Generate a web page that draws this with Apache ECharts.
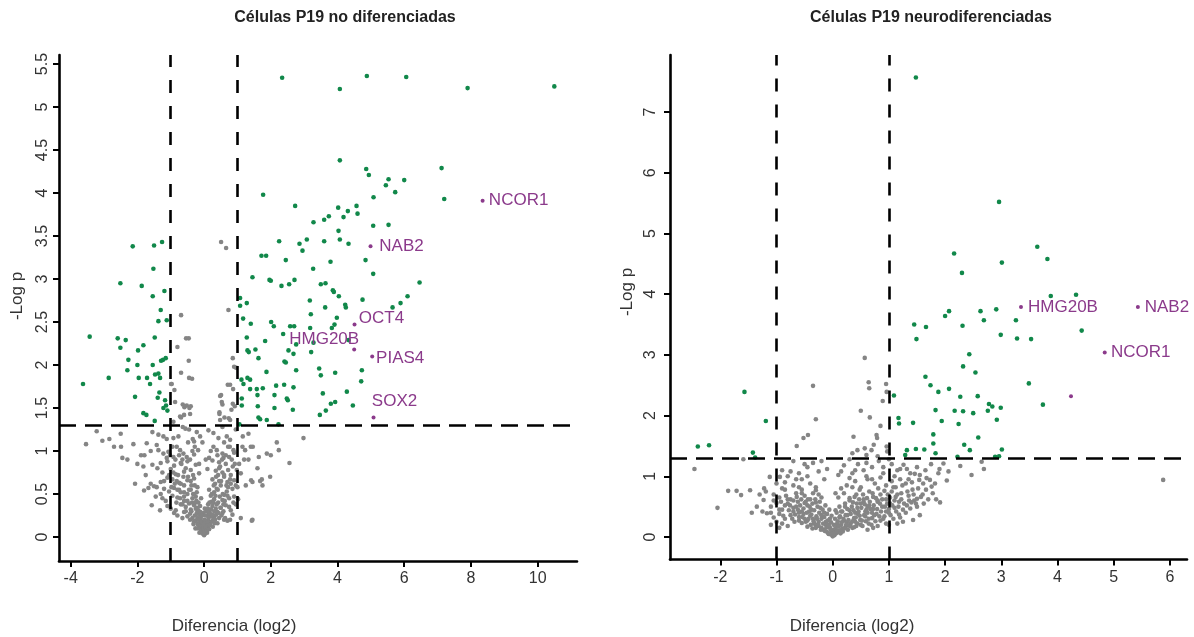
<!DOCTYPE html>
<html>
<head>
<meta charset="utf-8">
<script src="https://cdn.jsdelivr.net/npm/echarts@6/dist/echarts.min.js"></script>
<style>
html,body{margin:0;padding:0;background:#fff;}
#chart{width:1194px;height:637px;}
</style>
</head>
<body>
<div id="chart"></div>
<script>
// ---------------- DATA ----------------
const titles = ['Células P19 no diferenciadas', 'Células P19 neurodiferenciadas'];
const xAxisTitle = 'Diferencia (log2)';
const yAxisTitle = '-Log p';

const leftXTicks = [-4, -2, 0, 2, 4, 6, 8, 10];
const leftYTicks = [0, 0.5, 1, 1.5, 2, 2.5, 3, 3.5, 4, 4.5, 5, 5.5];
const rightXTicks = [-2, -1, 0, 1, 2, 3, 4, 5, 6];
const rightYTicks = [0, 1, 2, 3, 4, 5, 6, 7];

const diffThreshold = [-1, 1];
const pThreshold = 1.3;

// Left panel: significant (green)
const leftGreen = [
[2.34,5.34],[4.88,5.36],[6.06,5.35],[4.07,5.21],[7.90,5.22],[10.50,5.24],
[4.07,4.38],[4.86,4.28],[4.94,4.21],[7.12,4.29],[5.53,4.16],[6.00,4.15],[5.45,4.09],[5.73,4.01],[1.77,3.98],[5.08,3.95],[7.20,3.93],[2.73,3.85],[4.02,3.83],[4.31,3.79],[4.57,3.85],[4.60,3.76],[3.74,3.73],[4.18,3.72],[3.60,3.69],[3.28,3.66],[5.07,3.62],[5.53,3.63],[4.03,3.56],[2.25,3.44],[2.86,3.41],[3.08,3.46],[3.60,3.44],[4.07,3.46],[4.33,3.41],[2.95,3.33],[1.72,3.27],[1.86,3.27],[2.45,3.22],[3.79,3.20],[4.84,3.22],[3.27,3.12],[5.07,3.06],[1.45,3.02],[1.96,2.99],[2.00,2.98],[2.32,2.92],[2.55,2.94],[2.71,2.99],[3.50,2.94],[3.64,2.95],[3.86,2.87],[3.89,2.85],[4.04,2.80],[6.46,2.96],[6.10,2.80],[1.08,2.78],
[1.28,2.72],[1.08,2.69],[1.17,2.54],[1.40,2.48],[1.28,2.32],[1.30,2.17],[1.34,2.15],[1.54,2.18],[1.63,2.08],[1.83,2.28],[2.01,2.50],[2.09,2.45],[2.37,2.36],[2.58,2.45],[2.70,2.45],[2.68,2.13],[2.53,2.17],[2.41,2.04],[2.45,2.03],[2.76,1.94],[1.87,1.92],
[1.12,1.83],[1.30,1.85],[1.38,1.83],[1.38,1.72],[1.58,1.72],[1.60,1.65],[1.76,1.73],[2.16,1.76],[2.40,1.77],[2.68,1.74],[2.11,1.65],[2.48,1.61],[2.51,1.59],[1.13,1.61],[1.13,1.53],[1.61,1.52],[2.11,1.50],[2.66,1.48],[1.63,1.39],[1.68,1.37],[1.88,1.36],[2.23,1.31],[1.06,1.31],[1.18,1.78],
[3.17,2.75],[3.63,2.67],[4.23,2.70],[4.25,2.67],[4.75,2.76],[5.89,2.72],[5.65,2.67],[3.20,2.59],[3.98,2.55],[3.83,2.43],[3.91,2.47],[3.18,2.43],[2.76,2.24],[3.28,2.26],[4.33,2.29],[3.21,2.15],[3.45,1.96],[3.50,1.88],[3.93,1.91],[4.73,1.94],[4.71,1.81],[3.56,1.67],[4.28,1.69],[3.93,1.57],[3.80,1.55],[4.46,1.53],[3.65,1.47],[3.47,1.42],
[-2.14,3.38],[-1.50,3.39],[-1.26,3.43],[-1.52,3.12],[-2.51,2.95],[-1.87,2.92],[-1.19,2.86],[-1.54,2.80],[-1.30,2.64],[-1.37,2.51],[-1.12,2.52],[-3.43,2.33],[-2.59,2.31],[-2.35,2.29],[-2.51,2.20],[-1.48,2.32],[-1.82,2.23],[-1.98,2.17],[-2.27,2.06],[-2.00,2.00],[-1.29,2.05],[-1.23,2.06],[-1.15,2.08],[-1.54,2.00],[-2.30,1.94],[-1.47,1.89],[-1.37,1.90],[-1.32,1.85],[-1.96,1.85],[-1.71,1.85],[-1.62,1.78],[-3.63,1.78],[-2.86,1.85],[-1.34,1.68],[-2.07,1.63],[-1.39,1.62],[-1.17,1.59],[-1.14,1.53],[-1.22,1.50],[-1.10,1.47],[-1.82,1.44],[-1.73,1.42],[-1.48,1.35]
];

// Left panel: not significant (gray)
const leftGray = [
[0,0.02],[0.03,0.04],[-0.04,0.05],[0.06,0.06],[-0.07,0.07],[0.09,0.05],[-0.02,0.08],[0.1,0.1],[-0.1,0.09],[0.05,0.09],
[-0.15,0.12],[0.14,0.13],[-0.2,0.15],[0.18,0.16],[-0.12,0.17],[0.22,0.18],[-0.25,0.19],[0.12,0.19],[-0.18,0.2],[0.27,0.2],[0.08,0.15],[-0.08,0.14],[-0.3,0.18],[0.32,0.16],
[-0.35,0.22],[0.3,0.23],[-0.28,0.25],[0.36,0.26],[-0.42,0.27],[0.2,0.24],[-0.22,0.28],[0.4,0.29],[-0.5,0.24],[0.45,0.22],[0.15,0.27],[-0.15,0.26],[-0.6,0.29],[0.55,0.28],[0.6,0.2],[0.7,0.19],[0.78,0.2],[1.1,0.22],[1.45,0.2],[1.43,0.19],[-0.65,0.22],[-0.8,0.25],[-0.9,0.28],[0.85,0.26],
[-0.4,0.32],[0.35,0.33],[-0.55,0.35],[0.5,0.34],[-0.3,0.37],[0.25,0.36],[-0.7,0.38],[0.65,0.37],[-0.85,0.31],[0.8,0.31],[-1.0,0.33],[-1.1,0.36],[-1.32,0.31],[-1.57,0.37],[0.95,0.38],[-0.45,0.39],[0.42,0.4],[-0.2,0.34],
[-0.6,0.42],[0.55,0.43],[-0.35,0.45],[0.3,0.44],[-0.8,0.46],[0.75,0.45],[-0.95,0.48],[0.9,0.47],[-1.15,0.42],[-1.25,0.45],[0.6,0.49],[-0.5,0.5],[0.2,0.48],[-0.25,0.47],[1.02,0.44],[-1.45,0.47],
[-1.8,0.54],[-1.67,0.57],[-1.5,0.59],[-1.42,0.58],[-0.7,0.52],[0.68,0.53],[-0.4,0.55],[0.38,0.56],[-0.9,0.57],[0.85,0.56],[-1.05,0.53],[1.0,0.58],[-0.2,0.58],[0.15,0.55],[-0.6,0.6],[0.5,0.6],[-1.2,0.56],
[-2.07,0.62],[-1.3,0.64],[-0.75,0.63],[0.7,0.64],[-0.5,0.66],[0.45,0.65],[-0.95,0.67],[0.9,0.66],[-0.3,0.68],[0.25,0.67],[1.41,0.66],[1.45,0.64],[1.68,0.65],[1.73,0.67],[1.98,0.7],[-1.1,0.69],[0.6,0.7],
[-1.75,0.72],[-1.25,0.75],[-0.85,0.73],[0.8,0.72],[-0.6,0.76],[0.55,0.75],[-0.4,0.78],[0.35,0.77],[-1.0,0.79],[0.98,0.78],[-0.15,0.74],[0.1,0.79],[1.1,0.74],
[-1.82,0.82],[-1.55,0.84],[-1.3,0.86],[-0.9,0.83],[0.86,0.82],[-0.7,0.86],[0.65,0.85],[-0.5,0.88],[0.45,0.87],[-0.25,0.84],[0.25,0.89],[1.05,0.85],[2.56,0.86],[1.33,0.9],[-0.42,0.9],[-1.1,0.88],
[-2.45,0.92],[-1.89,0.95],[-1.79,0.95],[-1.22,0.97],[-1.07,0.99],[-1.02,0.95],[-0.92,0.93],[-0.62,0.97],[-0.52,0.93],[0.4,0.95],[0.55,0.97],[0.75,0.93],[0.9,0.98],[1.64,0.93],[1.88,0.97],[-0.3,0.96],[0.15,0.92],
[-3.54,1.08],[-2.49,1.05],[-2.12,1.08],[-1.72,1.09],[-1.42,1.07],[-1.37,1.01],[-0.82,1.05],[-0.72,1.01],[-0.28,1.05],[-0.18,1.01],[0.28,1.05],[0.38,1.01],[0.72,1.05],[0.88,1.01],[1.15,1.05],[1.23,1.01],[1.4,1.05],[1.46,1.05],[2.18,1.10],[2.24,1.01],
[-3.22,1.23],[-2.84,1.14],[-2.5,1.2],[-1.55,1.22],[-1.37,1.19],[-1.22,1.17],[-1.12,1.14],[-0.92,1.15],[-0.77,1.17],[-0.64,1.28],[-0.56,1.26],[-0.34,1.14],[-0.3,1.11],[-0.22,1.22],[-0.12,1.17],[0.13,1.24],[0.28,1.21],[0.43,1.15],[0.55,1.28],[0.68,1.17],[0.78,1.13],[1.16,1.17],[1.33,1.2],[2.98,1.15],[-0.45,1.25],[0.95,1.25],
[0.51,3.43],[0.66,3.36],[0.73,2.64],[-0.69,2.58],[-0.54,2.31],[-0.46,2.31],[-0.80,2.21],[-0.46,2.05],[-0.45,1.85],[-0.36,1.84],[0.86,2.08],[0.90,1.98],[0.95,1.97],[-0.99,1.78],[-0.89,1.71],[-0.87,1.57],[-0.64,1.54],[-0.59,1.51],[-0.44,1.5],[-0.42,1.43],[-0.69,1.39],[0.51,1.65],[0.55,1.54],[0.71,1.77],[0.87,1.72],[0.86,1.55],[0.82,1.48],[0.92,1.52],[0.46,1.43],[0.61,1.39],[0.78,1.36],[-0.92,1.34],[-0.69,1.91],[-0.97,1.78],[-0.72,1.40],[-0.60,1.42],[0.48,1.64],[0.53,1.57],[0.78,1.77],[0.46,1.45],[0.74,1.38],[0.48,1.36],[-0.52,1.53],[-0.40,1.52],
[-0.05,0.12],[0.04,0.18],[-0.1,0.22],[0.1,0.25],[-0.18,0.31],[0.18,0.32],[-0.26,0.4],[0.22,0.41],[-0.33,0.5],[0.3,0.52],[-0.12,0.36],[0.12,0.38],[-0.38,0.6],[0.33,0.62],[-0.48,0.7],[0.42,0.72],[-0.55,0.8],[0.48,0.82],[-0.65,0.9],[0.58,0.92],[-0.02,0.28],[0.02,0.33],[-0.6,0.47],[0.58,0.38],[-0.75,0.55],[0.72,0.58],[-0.82,0.65],[0.78,0.67],
[-0.55,0.3],[-0.5,0.42],[-0.45,0.55],[-0.42,0.2],[-0.4,0.65],[-0.38,0.3],[-0.36,0.4],[-0.33,0.72],[-0.32,0.15],[-0.3,0.5],[-0.28,0.6],[-0.26,0.1],[-0.25,0.33],[-0.23,0.42],[-0.22,0.52],[-0.2,0.22],[-0.18,0.1],[-0.17,0.4],[-0.16,0.3],[-0.14,0.05],[-0.13,0.21],[-0.11,0.29],[-0.1,0.14],[-0.09,0.45],[-0.07,0.18],[-0.06,0.25],[-0.05,0.04],[-0.03,0.15],[-0.01,0.1],[0.01,0.2],[0.02,0.06],[0.04,0.25],[0.05,0.12],[0.07,0.3],[0.08,0.08],[0.1,0.18],[0.11,0.33],[0.13,0.22],[0.15,0.09],[0.16,0.4],[0.17,0.28],[0.19,0.14],[0.21,0.32],[0.23,0.5],[0.24,0.26],[0.26,0.12],[0.28,0.4],[0.29,0.6],[0.31,0.3],[0.33,0.2],[0.34,0.48],[0.36,0.7],[0.38,0.38],[0.4,0.16],[0.41,0.55],[0.43,0.28],[0.45,0.8],[0.47,0.47],[0.49,0.34],[0.51,0.65],[0.52,0.25],[0.54,0.9],[0.56,0.5],[0.58,0.3],[0.6,0.72],[0.62,0.42],[0.63,0.22],[0.65,0.95],[0.67,0.6],[0.7,0.48],[0.72,0.78],[0.75,0.35],[0.77,1.05],[0.8,0.62],[0.83,0.9],[0.88,0.4],[0.92,0.85],[0.95,0.6],
[-0.6,0.52],[-0.62,0.7],[-0.65,0.38],[-0.68,0.85],[-0.7,0.62],[-0.72,0.45],[-0.75,0.95],[-0.78,0.72],[-0.8,0.55],[-0.83,0.4],[-0.86,0.9],[-0.88,0.62],[-0.92,0.75],[-0.95,1.05],[-0.98,0.58],[-1.05,0.72],[-1.12,0.92],[-1.2,0.65],[-1.3,0.5],[-1.4,0.8],[-1.6,0.62],[-1.6,1.0],[-2.0,0.85],[-2.3,0.9],[-2.7,1.05],[-3.05,1.12],[-0.48,1.1],[-0.05,1.1],[0.2,1.0],[0.6,1.1],[1.2,0.9],[1.25,0.6],[1.6,0.8],[1.75,0.6],[2.0,0.95],[-0.15,0.85],[0.05,0.9],[-0.35,1.0]
];

// Left panel: highlighted genes
const leftGenes = ['NCOR1', 'NAB2', 'OCT4', 'HMG20B', 'PIAS4', 'SOX2'];
const leftGeneX = [8.35, 4.99, 4.51, 4.50, 5.04, 5.08];
const leftGeneY = [3.91, 3.38, 2.47, 2.18, 2.10, 1.39];

// Right panel: significant (green)
const rightGreen = [
[1.48,7.57],[2.96,5.52],[2.16,4.67],[3.01,4.52],[2.30,4.35],[3.64,4.78],[3.82,4.58],[3.88,3.97],[4.33,3.99],[2.00,3.64],[2.07,3.72],[2.63,3.72],[2.91,3.75],[2.69,3.57],[3.26,3.57],[1.45,3.50],[1.66,3.46],[2.31,3.48],[4.43,3.40],[1.49,3.26],[2.99,3.33],[3.28,3.27],[3.53,3.26],[2.43,3.01],[2.32,2.81],[2.54,2.71],[1.65,2.64],[1.74,2.50],[1.88,2.39],[2.07,2.44],[3.49,2.53],[1.09,2.33],[2.27,2.31],[2.58,2.32],[3.74,2.18],[2.78,2.19],[2.84,2.15],[2.76,2.08],[2.99,2.13],[1.83,2.09],[2.17,2.08],[2.32,2.07],[2.50,2.04],[2.92,1.93],[1.17,1.96],[1.18,1.87],[1.43,1.88],[1.94,1.91],[2.24,1.86],[1.79,1.69],[2.59,1.64],[1.79,1.54],[2.34,1.52],[1.48,1.45],[1.63,1.44],[2.44,1.43],[1.32,1.43],[1.29,1.35],[1.83,1.38],[2.22,1.32],[3.01,1.44],[2.89,1.32],[2.96,1.33],
[-1.57,2.39],[-1.19,1.91],[-2.40,1.49],[-2.20,1.51],[-1.42,1.39],[-1.38,1.31]
];

// Right panel: not significant (gray)
const rightGray = [
[-2.46,1.12],[-1.86,0.76],[-1.71,0.76],[-1.63,0.69],[-1.47,0.77],[-2.05,0.48],[-1.44,0.40],[-1.59,1.28],[-1.22,0.80],[-1.19,0.75],[-1.23,0.61],[-1.25,0.42],[-1.17,0.39],[-1.12,0.99],[-0.94,0.99],
[0.57,2.95],[-0.35,2.49],[0.64,2.55],[0.65,2.45],[0.95,2.52],[0.96,2.39],[0.89,2.24],[0.50,2.08],[0.66,1.97],[-0.30,1.94],[0.85,1.83],[0.78,1.68],[0.79,1.63],[-0.44,1.68],[-0.52,1.63],[-0.64,1.50],[0.37,1.65],[0.73,1.52],[0.69,1.43],[0.44,1.43],[0.57,1.46],[0.96,1.49],[0.97,1.41],[0.6,1.35],[0.35,1.38],[0.8,1.33],
[-0.9,1.1],[-0.6,1.05],[-0.45,1.15],[-0.35,1.22],[-0.25,1.08],[-0.1,1.12],[0.2,1.18],[0.35,1.05],[0.45,1.2],[0.55,1.1],[0.7,1.15],[0.82,1.25],[0.9,1.05],[1.05,1.2],[1.15,1.1],[1.26,1.19],[1.32,1.12],[1.38,1.05],[1.46,1.04],[1.55,1.02],[1.88,1.05],[1.90,1.12],[1.97,1.21],[2.06,1.08],[2.27,1.17],[2.47,1.02],[2.65,1.24],[2.69,1.12],[-0.7,1.25],[0.1,1.02],[-0.8,1.0],
[-0.85,0.9],[-0.7,0.85],[-0.55,0.95],[-0.4,0.88],[-0.3,0.82],[0.25,0.85],[0.4,0.92],[0.5,0.82],[0.62,0.95],[0.75,0.88],[0.85,0.98],[0.95,0.85],[1.05,0.92],[1.12,0.82],[1.2,0.95],[1.3,0.88],[1.54,0.94],[1.61,0.88],[1.67,0.97],[1.73,0.94],[1.76,0.83],[1.82,0.88],[2.03,0.93],[5.88,0.94],[-0.6,0.82],[0.3,0.97],
[-1.05,0.7],[-0.95,0.65],[-0.85,0.78],[-0.75,0.62],[-0.65,0.72],[-0.5,0.68],[-0.4,0.62],[-0.25,0.7],[0.2,0.72],[0.3,0.64],[0.42,0.7],[0.55,0.62],[0.65,0.75],[0.72,0.66],[0.85,0.7],[0.95,0.62],[1.05,0.75],[1.12,0.66],[1.22,0.72],[1.35,0.68],[1.42,0.78],[1.5,0.63],[1.6,0.7],[1.45,0.6],[-0.55,0.78],[0.48,0.78],[-0.3,0.77],[0.1,0.65],
[-1.1,0.5],[-1.0,0.56],[-0.9,0.45],[-0.8,0.55],[-0.7,0.48],[-0.62,0.58],[-0.55,0.42],[-0.45,0.52],[-0.38,0.45],[-0.3,0.57],[-0.22,0.48],[-0.15,0.4],[0.15,0.42],[0.22,0.5],[0.3,0.44],[0.36,0.57],[0.44,0.48],[0.5,0.55],[0.58,0.42],[0.65,0.52],[0.72,0.46],[0.8,0.58],[0.88,0.5],[0.95,0.42],[1.02,0.55],[1.1,0.48],[1.18,0.58],[1.25,0.45],[1.32,0.52],[1.4,0.57],[1.5,0.5],[1.91,0.57],[-0.48,0.58],[0.55,0.58],[-0.85,0.52],[0.05,0.44],
[-1.05,0.32],[-0.95,0.38],[-0.85,0.3],[-0.75,0.36],[-0.68,0.25],[-0.6,0.33],[-0.52,0.38],[-0.45,0.27],[-0.4,0.35],[-0.33,0.22],[-0.28,0.3],[-0.2,0.36],[-0.12,0.25],[-0.05,0.3],[0.08,0.22],[0.12,0.32],[0.2,0.27],[0.26,0.36],[0.32,0.22],[0.38,0.31],[0.45,0.38],[0.52,0.27],[0.58,0.34],[0.64,0.22],[0.7,0.31],[0.78,0.38],[0.85,0.27],[0.92,0.34],[1.0,0.4],[1.08,0.3],[1.18,0.37],[1.43,0.28],[1.55,0.36],[1.25,0.25],[-0.55,0.23],[0.5,0.2],[-0.9,0.22],[0.95,0.22],
[0,0.01],[0.03,0.03],[-0.03,0.04],[0.06,0.06],[-0.07,0.05],[0.1,0.08],[-0.11,0.09],[0.14,0.11],[-0.16,0.12],[0.18,0.14],[-0.2,0.15],[0.23,0.17],[-0.25,0.18],[0.28,0.19],[-0.3,0.2],[0.02,0.12],[-0.05,0.16],[0.08,0.18],[-0.12,0.2],[0.15,0.2],[0.35,0.15],[-0.36,0.14],[0.42,0.18],[-0.45,0.17],[0.05,0.09],[-0.02,0.07],
[-0.5,0.3],[-0.6,0.4],[-0.7,0.42],[-0.35,0.3],[0.4,0.25],[0.48,0.35],[0.6,0.45],[0.7,0.4],[-0.25,0.25],[0.25,0.24],[-0.42,0.42],[0.4,0.4],[-0.8,0.62],[0.8,0.6],[-0.65,0.5],[0.62,0.5],
[-0.95,0.45],[-0.92,0.58],[-0.88,0.35],[-0.83,0.68],[-0.78,0.44],[-0.76,0.52],[-0.72,0.3],[-0.7,0.6],[-0.67,0.37],[-0.64,0.66],[-0.62,0.45],[-0.6,0.27],[-0.58,0.52],[-0.56,0.62],[-0.54,0.33],[-0.52,0.47],[-0.5,0.56],[-0.48,0.25],[-0.46,0.4],[-0.44,0.62],[-0.43,0.3],[-0.41,0.5],[-0.39,0.2],[-0.38,0.37],[-0.36,0.55],[-0.34,0.26],[-0.33,0.44],[-0.31,0.62],[-0.3,0.15],[-0.29,0.34],[-0.27,0.5],[-0.26,0.2],[-0.24,0.4],[-0.23,0.58],[-0.21,0.12],[-0.2,0.3],[-0.18,0.45],[-0.17,0.22],[-0.15,0.33],[-0.14,0.1],[-0.13,0.52],[-0.11,0.16],[-0.1,0.38],[-0.09,0.27],[-0.08,0.06],[-0.07,0.2],[-0.06,0.45],[-0.04,0.12],[-0.03,0.24],[-0.02,0.35],
[0.01,0.05],[0.02,0.2],[0.04,0.3],[0.05,0.14],[0.07,0.4],[0.08,0.1],[0.09,0.26],[0.11,0.17],[0.12,0.5],[0.13,0.34],[0.14,0.06],[0.16,0.24],[0.17,0.42],[0.18,0.09],[0.19,0.3],[0.21,0.14],[0.22,0.55],[0.23,0.36],[0.24,0.2],[0.26,0.46],[0.27,0.12],[0.28,0.28],[0.3,0.6],[0.31,0.18],[0.32,0.38],[0.34,0.5],[0.35,0.26],[0.37,0.44],[0.38,0.16],[0.39,0.66],[0.41,0.32],[0.43,0.55],[0.44,0.22],[0.46,0.42],[0.47,0.62],[0.49,0.28],[0.51,0.48],[0.53,0.18],[0.54,0.7],[0.56,0.36],[0.57,0.54],[0.59,0.26],[0.61,0.64],[0.62,0.4],[0.64,0.3],[0.66,0.58],[0.67,0.46],[0.69,0.2],[0.71,0.72],[0.73,0.52],[0.74,0.36],[0.76,0.26],[0.77,0.64],[0.79,0.46],[0.81,0.8],[0.83,0.34],[0.84,0.55],[0.86,0.42],[0.88,0.62],[0.9,0.3],[0.92,0.76],[0.93,0.5],[0.97,0.55],[0.98,0.7],[1.0,0.46],[1.02,0.65],[1.03,0.36],[1.06,0.52],[1.08,0.82],[1.1,0.6],[1.13,0.42],[1.15,0.7],[1.17,0.5],[1.2,0.32],[1.22,0.62],[1.24,0.85],[1.27,0.55],[1.3,0.4],[1.33,0.75],[1.36,0.6],[1.38,0.47],[1.41,0.9],[1.44,0.7],[1.48,0.55],[1.52,0.8],[1.57,0.66],[1.62,0.55],[1.66,0.78],[1.7,0.62],[1.78,0.72],[1.84,0.62],
[1.1,1.0],[1.2,1.12],[0.9,1.15],[0.6,1.0],[0.4,1.1],[0.15,1.08],[-0.15,0.95],[-0.45,1.0],[-0.65,0.95],[-0.75,1.08],[-0.9,0.8],[-1.0,0.88],[-1.05,0.6],[-1.1,0.4],[-1.0,0.25],[-0.8,0.18],[0.8,0.18],[1.0,0.2],[1.15,0.22],[-0.55,0.72],[-0.35,0.72],[-0.2,0.65],[0.05,0.72],[0.15,0.8],[0.35,0.82],[0.7,0.95],[1.35,0.95],[1.5,1.15],[-0.5,1.2],[-0.2,1.25],[0.3,1.28],[0.6,1.22],[1.0,1.28],[1.65,1.1],[1.75,1.2],[-1.3,0.7],[-1.35,0.5],[-1.1,0.2],[-0.95,0.15],[0.62,0.12],[0.72,0.15]
];

// Right panel: highlighted genes
const rightGenes = ['HMG20B', 'NAB2', 'NCOR1', ''];
const rightGeneX = [3.35, 5.43, 4.84, 4.24];
const rightGeneY = [3.79, 3.79, 3.04, 2.32];

// ---------------- STYLE ----------------
const FONT = 'Liberation Sans, Arial, Helvetica, sans-serif';
const GREEN = '#11884a';
const GRAY = '#858585';
const PURPLE = '#8b3a8b';
const DOT = 4.6;
const labelOffsets = {
  left: {NCOR1:[36,0], NAB2:[31,0], OCT4:[27,-6], HMG20B:[-30,-10], PIAS4:[28,2], SOX2:[21,-16]},
  right: {HMG20B:[42,0], NAB2:[29,0], NCOR1:[36,0]}
};

function geneData(names, xs, ys, side) {
  return names.map((n, i) => ({
    name: n,
    value: [xs[i], ys[i]],
    label: {
      show: n !== '',
      position: 'inside',
      offset: labelOffsets[side][n] || [0,0]
    }
  }));
}

function xAxisCfg(grid, min, max, ticks) {
  return {
    gridIndex: grid, type: 'value', min: min, max: max,
    axisLine: {show: true, onZero: false, lineStyle: {color: '#000', width: 2.6}},
    axisTick: {show: true, customValues: ticks, length: 6, lineStyle: {color: '#000', width: 2}},
    axisLabel: {customValues: ticks, fontSize: 16, color: '#333', margin: 10, fontFamily: FONT},
    splitLine: {show: false}
  };
}
function yAxisCfg(grid, min, max, ticks, margin) {
  return {
    gridIndex: grid, type: 'value', min: min, max: max,
    axisLine: {show: true, onZero: false, lineStyle: {color: '#000', width: 2.6}},
    axisTick: {show: true, customValues: ticks, length: 6, lineStyle: {color: '#000', width: 2}},
    axisLabel: {customValues: ticks, fontSize: 16, color: '#333', margin: margin, rotate: 90, fontFamily: FONT},
    splitLine: {show: false}
  };
}

function thresholdLines() {
  return {
    silent: true,
    symbol: ['none', 'none'],
    label: {show: false},
    animation: false,
    lineStyle: {color: '#000', width: 2.6},
    data: [
      {xAxis: diffThreshold[0], lineStyle: {type: [13, 13], color: '#000', width: 2.6}},
      {xAxis: diffThreshold[1], lineStyle: {type: [13, 13], color: '#000', width: 2.6}},
      {yAxis: pThreshold, lineStyle: {type: [17, 9], color: '#000', width: 2.6}}
    ]
  };
}

function scatter(idx, data, color, extra) {
  return Object.assign({
    type: 'scatter', xAxisIndex: idx, yAxisIndex: idx,
    data: data, symbol: 'circle', symbolSize: DOT,
    itemStyle: {color: color, opacity: 1},
    emphasis: {disabled: true}, animation: false
  }, extra || {});
}

const geneLabelStyle = {
  show: true, color: PURPLE, fontSize: 17, fontFamily: FONT,
  formatter: p => p.name
};

function centeredText(text, x, y, font, fill, rotation) {
  return {type: 'text', x: x, y: y, rotation: rotation || 0,
    style: {text: text, font: font, fill: fill, textAlign: 'center', textVerticalAlign: 'middle'}};
}

const chart = echarts.init(document.getElementById('chart'), null, {renderer: 'canvas'});
chart.setOption({
  backgroundColor: '#fff',
  animation: false,
  grid: [
    {left: 59, top: 55, width: 518, height: 506},
    {left: 670, top: 55, width: 517, height: 504.5}
  ],
  xAxis: [
    xAxisCfg(0, -4.35, 11.18, leftXTicks),
    xAxisCfg(1, -2.895, 6.304, rightXTicks)
  ],
  yAxis: [
    yAxisCfg(0, -0.279, 5.605, leftYTicks, 8),
    yAxisCfg(1, -0.371, 7.94, rightYTicks, 11)
  ],
  graphic: [
    centeredText(titles[0], 345, 18, 'bold 16px ' + FONT, '#222'),
    centeredText(titles[1], 931, 18, 'bold 16px ' + FONT, '#222'),
    centeredText(xAxisTitle, 234, 626, '17px ' + FONT, '#333'),
    centeredText(xAxisTitle, 852, 626, '17px ' + FONT, '#333'),
    centeredText(yAxisTitle, 17, 296, '17px ' + FONT, '#333', Math.PI / 2),
    centeredText(yAxisTitle, 627, 292, '17px ' + FONT, '#333', Math.PI / 2)
  ],
  series: [
    scatter(0, leftGray, GRAY, {markLine: thresholdLines()}),
    scatter(0, leftGreen, GREEN),
    scatter(0, geneData(leftGenes, leftGeneX, leftGeneY, 'left'), PURPLE, {label: geneLabelStyle, symbolSize: 4}),
    scatter(1, rightGray, GRAY, {markLine: thresholdLines()}),
    scatter(1, rightGreen, GREEN),
    scatter(1, geneData(rightGenes, rightGeneX, rightGeneY, 'right'), PURPLE, {label: geneLabelStyle, symbolSize: 4})
  ]
});
</script>
</body>
</html>
